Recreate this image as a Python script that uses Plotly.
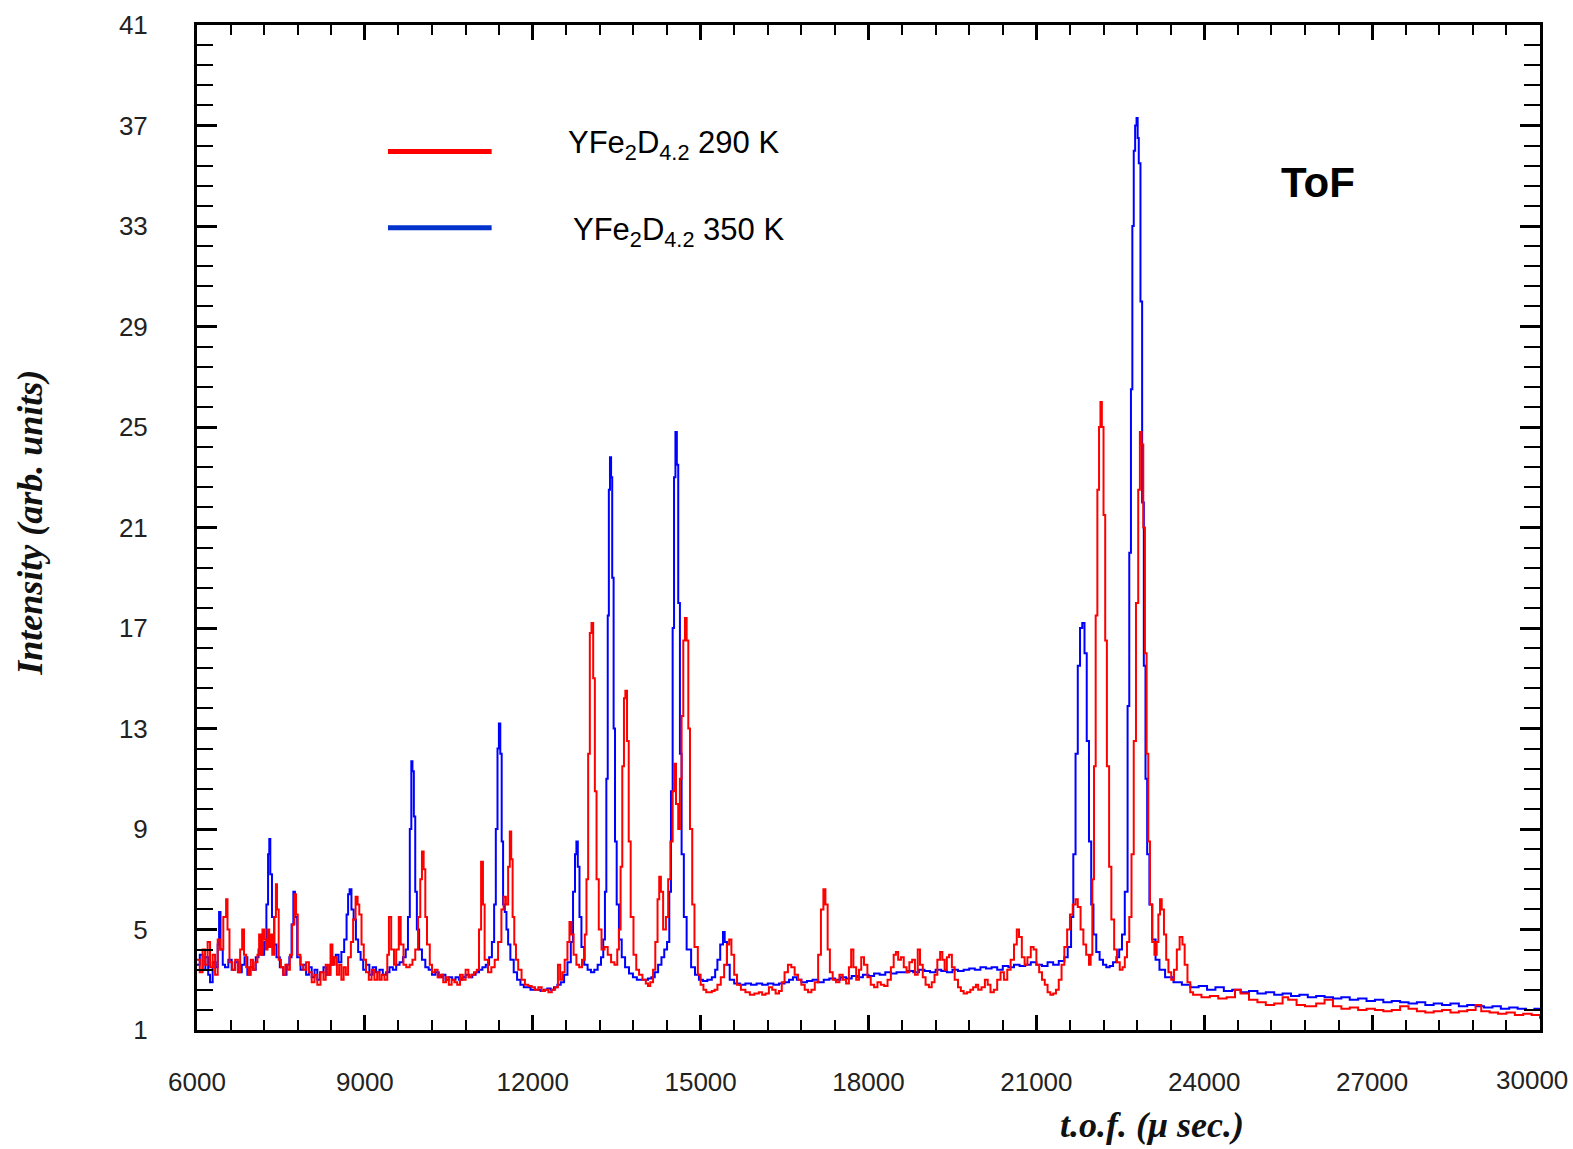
import plotly.graph_objects as go

# Time-of-flight neutron diffraction patterns of YFe2D4.2 at two temperatures

# 350 K pattern: time of flight (µs) and intensity (arb. units)
tof_350 = [
    6000, 6050, 6100, 6150, 6200, 6233, 6280, 6330, 6370, 6395, 6420, 6460, 6500, 6560, 6620,
    6680, 6740, 6800, 6850, 6900, 6950, 7000, 7050, 7100, 7150, 7200, 7240, 7270, 7292, 7310,
    7340, 7380, 7420, 7480, 7540, 7600, 7650, 7690, 7722, 7750, 7790, 7850, 7900, 7950, 8000,
    8050, 8100, 8150, 8200, 8260, 8320, 8380, 8430, 8480, 8530, 8580, 8630, 8673, 8700, 8727,
    8760, 8799, 8840, 8880, 8924, 8970, 9020, 9080, 9140, 9200, 9260, 9320, 9380, 9440, 9500,
    9560, 9620, 9680, 9730, 9770, 9803, 9830, 9850, 9875, 9900, 9929, 9970, 10020, 10080, 10140,
    10200, 10260, 10320, 10380, 10440, 10500, 10560, 10620, 10680, 10740, 10800, 10860, 10920, 10980, 11040,
    11100, 11160, 11220, 11270, 11310, 11340, 11370, 11395, 11420, 11445, 11470, 11500, 11530, 11560, 11600,
    11660, 11720, 11780, 11840, 11900, 11960, 12020, 12080, 12140, 12200, 12260, 12320, 12380, 12440, 12500,
    12560, 12620, 12680, 12720, 12755, 12780, 12805, 12835, 12870, 12920, 12980, 13040, 13100, 13160, 13220,
    13260, 13290, 13315, 13340, 13360, 13380, 13400, 13420, 13445, 13470, 13500, 13540, 13590, 13650, 13720,
    13790, 13860, 13930, 14000, 14060, 14120, 14180, 14240, 14300, 14350, 14400, 14440, 14470, 14500, 14525,
    14550, 14575, 14600, 14630, 14660, 14700, 14750, 14830, 14900, 14970, 15040, 15120, 15200, 15260, 15300,
    15350, 15400, 15430, 15470, 15520, 15600, 15700, 15800, 15900, 16000, 16100, 16200, 16300, 16400, 16500,
    16580, 16650, 16720, 16800, 16900, 17000, 17100, 17200, 17300, 17400, 17500, 17600, 17700, 17800, 17900,
    18000, 18100, 18200, 18300, 18400, 18500, 18600, 18700, 18800, 18900, 19000, 19100, 19200, 19300, 19400,
    19500, 19600, 19700, 19800, 19900, 20000, 20100, 20200, 20300, 20400, 20500, 20600, 20700, 20800, 20900,
    21000, 21100, 21200, 21300, 21400, 21500, 21560, 21620, 21660, 21700, 21740, 21780, 21820, 21860, 21900,
    21940, 21980, 22020, 22070, 22130, 22190, 22250, 22310, 22370, 22430, 22480, 22530, 22580, 22630, 22660,
    22690, 22715, 22740, 22765, 22790, 22810, 22830, 22860, 22890, 22920, 22950, 22980, 23020, 23070, 23130,
    23200, 23300, 23450, 23600, 23750, 23900, 24050, 24200, 24350, 24500, 24650, 24800, 24950, 25100, 25250,
    25400, 25550, 25700, 25850, 26000, 26150, 26300, 26450, 26600, 26750, 26900, 27050, 27200, 27350, 27500,
    27650, 27800, 27950, 28100, 28250, 28400, 28550, 28700, 28850, 29000, 29150, 29300, 29450, 29600, 29750,
    29900, 30000,
]
int_350 = [
    3.6, 4.0, 3.4, 3.9, 3.2, 2.9, 3.7, 3.5, 4.4, 5.7, 4.2, 3.6, 3.5, 3.8, 3.4,
    3.7, 3.3, 3.6, 3.9, 3.2, 3.5, 3.4, 3.9, 4.2, 4.0, 4.5, 6.0, 8.0, 8.6, 7.2,
    5.5, 4.4, 3.9, 3.5, 3.2, 3.6, 3.9, 5.2, 6.5, 5.5, 3.9, 3.4, 3.6, 3.2, 3.5,
    3.1, 3.4, 3.0, 3.3, 3.5, 3.2, 3.6, 3.9, 4.0, 3.7, 4.1, 4.6, 5.6, 6.4, 6.6,
    5.8, 5.4, 4.6, 4.1, 3.8, 3.4, 3.6, 3.2, 3.5, 3.3, 3.4, 3.2, 3.3, 3.5, 3.4,
    3.6, 3.7, 3.9, 4.2, 5.5, 9.0, 11.7, 11.3, 9.5, 6.5, 5.0, 4.2, 3.8, 3.5, 3.4,
    3.2, 3.3, 3.1, 3.2, 3.0, 3.1, 3.0, 3.1, 3.0, 3.1, 3.2, 3.1, 3.2, 3.3, 3.4,
    3.5, 3.6, 3.9, 4.5, 6.0, 9.0, 12.2, 13.2, 12.0, 8.5, 6.0, 5.7, 5.0, 4.4, 3.8,
    3.3, 3.0, 2.8, 2.7, 2.7, 2.6, 2.6, 2.6, 2.55, 2.6, 2.65, 2.6, 2.7, 2.8, 2.9,
    3.2, 3.7, 4.5, 6.5, 8.0, 8.5, 7.5, 5.5, 4.3, 3.6, 3.4, 3.3, 3.4, 3.6, 3.9,
    4.6, 6.5, 11.0, 17.5, 22.5, 23.8, 23.0, 19.0, 13.0, 8.5, 6.0, 4.6, 3.9, 3.5, 3.25,
    3.1, 3.0, 3.0, 3.0, 3.05, 3.1, 3.3, 3.6, 3.9, 4.2, 4.5, 6.5, 10.5, 17.0, 23.0,
    24.8, 23.5, 18.0, 12.0, 8.0, 5.5, 4.2, 3.5, 3.2, 3.0, 2.95, 3.0, 3.1, 3.4, 3.8,
    4.4, 4.9, 4.5, 3.6, 3.0, 2.85, 2.8, 2.85, 2.8, 2.85, 2.8, 2.85, 2.8, 2.85, 2.9,
    3.0, 3.1, 3.0, 2.9, 2.95, 3.0, 2.9, 3.0, 3.05, 3.0, 3.1, 3.05, 3.15, 3.1, 3.2,
    3.15, 3.25, 3.2, 3.3, 3.25, 3.3, 3.3, 3.35, 3.3, 3.4, 3.35, 3.3, 3.4, 3.35, 3.3,
    3.4, 3.35, 3.4, 3.45, 3.4, 3.5, 3.45, 3.5, 3.4, 3.55, 3.5, 3.6, 3.55, 3.6, 3.7,
    3.6, 3.55, 3.7, 3.6, 3.75, 3.9, 4.3, 5.5, 8.0, 12.0, 15.5, 17.0, 17.2, 16.0, 12.5,
    8.5, 6.0, 4.8, 4.1, 3.8, 3.6, 3.5, 3.55, 3.7, 3.9, 4.2, 4.8, 6.5, 13.9, 20.0,
    26.5, 33.0, 36.0, 37.0, 37.3, 36.5, 35.5, 30.0, 22.0, 15.5, 11.0, 8.0, 6.0, 4.6, 3.8,
    3.4, 3.1, 2.9, 2.8, 2.7, 2.75, 2.6, 2.7, 2.55, 2.6, 2.5, 2.55, 2.45, 2.5, 2.4,
    2.45, 2.35, 2.4, 2.3, 2.35, 2.3, 2.25, 2.3, 2.2, 2.25, 2.15, 2.2, 2.1, 2.15, 2.1,
    2.05, 2.1, 2.0, 2.05, 2.0, 2.05, 1.95, 2.0, 1.95, 1.9, 1.95, 1.85, 1.9, 1.85, 1.8,
    1.85, 1.8,
]

# 290 K pattern: time of flight (µs) and intensity (arb. units)
tof_290 = [
    6000, 6050, 6100, 6144, 6190, 6233, 6280, 6323, 6370, 6413, 6470, 6520, 6545, 6580, 6630,
    6682, 6730, 6771, 6807, 6840, 6879, 6920, 6960, 7000, 7041, 7080, 7110, 7140, 7170, 7202,
    7230, 7260, 7290, 7320, 7345, 7381, 7410, 7430, 7460, 7500, 7540, 7579, 7620, 7660, 7700,
    7740, 7770, 7800, 7848, 7900, 7950, 8000, 8050, 8100, 8150, 8207, 8260, 8300, 8340, 8386,
    8420, 8460, 8500, 8540, 8580, 8620, 8660, 8700, 8750, 8790, 8834, 8870, 8900, 8940, 8980,
    9020, 9070, 9120, 9170, 9220, 9260, 9300, 9350, 9400, 9430, 9470, 9520, 9560, 9606, 9640,
    9690, 9740, 9800, 9850, 9900, 9950, 9990, 10020, 10050, 10080, 10110, 10160, 10200, 10250, 10300,
    10350, 10400, 10450, 10500, 10550, 10600, 10650, 10700, 10750, 10800, 10850, 10900, 10950, 11000, 11040,
    11077, 11110, 11140, 11200, 11260, 11320, 11380, 11440, 11480, 11520, 11560, 11590, 11615, 11640, 11670,
    11700, 11740, 11800, 11860, 11920, 11980, 12040, 12100, 12160, 12220, 12280, 12340, 12400, 12450, 12490,
    12530, 12570, 12620, 12656, 12690, 12730, 12780, 12830, 12880, 12930, 12960, 12990, 13020, 13050, 13080,
    13110, 13140, 13180, 13229, 13283, 13340, 13400, 13460, 13510, 13540, 13570, 13600, 13630, 13655, 13685,
    13715, 13750, 13800, 13850, 13900, 13960, 14020, 14060, 14100, 14150, 14190, 14230, 14260, 14290, 14330,
    14380, 14420, 14460, 14500, 14530, 14560, 14600, 14630, 14660, 14690, 14720, 14750, 14780, 14810, 14850,
    14890, 14950,
    15000, 15050, 15100, 15150, 15200, 15250, 15300, 15360, 15420, 15470, 15510, 15550, 15600, 15650, 15720,
    15800, 15880, 15960, 16040, 16100, 16160, 16220, 16280, 16340, 16400, 16450, 16500, 16560, 16620, 16680,
    16740, 16800, 16860, 16920, 16980, 17040, 17100, 17150, 17194, 17230, 17270, 17310, 17360, 17420, 17480,
    17540, 17600, 17650, 17690, 17730, 17780, 17830, 17870, 17920, 17980, 18040, 18100, 18160, 18220, 18280,
    18340, 18400, 18450, 18490, 18530, 18580, 18630, 18680, 18730, 18780, 18830, 18880, 18920, 18970, 19020,
    19080, 19130, 19180, 19230, 19280, 19320, 19360, 19400, 19440, 19490, 19540, 19600, 19650, 19700, 19760,
    19820, 19870, 19920, 19960, 20020, 20080, 20130, 20180, 20240, 20300, 20360, 20420, 20480, 20540, 20600,
    20650, 20690, 20740, 20790, 20840, 20900, 20950, 21000, 21050, 21100, 21150, 21200, 21250, 21300, 21350,
    21400, 21450, 21500, 21550, 21600, 21650, 21700, 21740, 21790, 21840, 21890, 21940, 21970, 22000, 22030,
    22060, 22090, 22120, 22145, 22170, 22200, 22230, 22260, 22300, 22340, 22390, 22440, 22490, 22540, 22580,
    22620, 22660, 22700, 22740, 22780, 22820, 22850, 22880, 22910, 22940, 22970, 23000, 23030, 23070, 23110,
    23150, 23180, 23210, 23240, 23280, 23320, 23360, 23410, 23460, 23510, 23560, 23610, 23650, 23700, 23750,
    23800, 23950, 24100, 24250, 24400, 24550, 24650, 24800, 24950, 25100, 25250, 25400, 25500, 25650, 25800,
    26000, 26150, 26300, 26450, 26600, 26750, 26900, 27050, 27200, 27350, 27500, 27650, 27800, 27950, 28100,
    28250, 28400, 28550, 28700, 28850, 28950, 29100, 29250, 29400, 29550, 29700, 29850, 30000,
]
int_290 = [
    3.8, 3.3, 4.2, 3.6, 4.5, 3.5, 4.0, 3.2, 4.6, 4.2, 5.5, 6.2, 5.0, 3.7, 3.4,
    3.8, 3.3, 4.2, 5.0, 4.0, 3.5, 3.2, 3.8, 3.4, 3.7, 4.0, 4.8, 4.0, 5.0, 4.6,
    4.2, 5.0, 4.3, 4.8, 4.0, 5.5, 6.8, 5.8, 3.8, 3.5, 3.2, 3.6, 3.4, 4.0, 5.2,
    6.4, 5.6, 4.0, 3.6, 3.4, 3.7, 3.3, 2.9, 3.2, 2.8, 3.3, 3.0, 3.6, 3.2, 4.4,
    3.6, 3.9, 3.2, 3.6, 3.0, 3.5, 3.2, 3.9, 4.5, 5.4, 6.3, 6.0, 5.6, 4.4, 3.8,
    3.3, 3.0, 3.4, 3.0, 3.3, 3.0, 3.2, 3.0, 4.0, 5.5, 4.2, 3.6, 4.2, 5.5, 4.4,
    3.6, 3.5, 3.6, 3.8, 4.2, 5.5, 7.0, 8.1, 7.4, 5.5, 4.4, 3.6, 3.3, 3.4, 3.1,
    3.2, 2.9, 3.1, 2.8, 3.0, 2.9, 2.8, 3.2, 3.0, 3.4, 3.1, 3.2, 3.3, 3.4, 5.0,
    7.7, 6.0, 3.8, 3.3, 3.5, 3.8, 4.5, 5.8, 6.3, 6.0, 7.5, 8.9, 7.8, 5.5, 4.4,
    3.8, 3.4, 3.0, 2.8, 2.75, 2.7, 2.6, 2.7, 2.55, 2.6, 2.5, 2.6, 2.7, 3.6, 3.0,
    3.3, 3.8, 4.5, 5.3, 4.8, 4.0, 3.6, 3.5, 3.8, 4.8, 7.0, 12.0, 16.8, 17.2, 15.0,
    10.5, 7.0, 5.0, 4.2, 4.3, 4.0, 3.7, 3.6, 4.2, 5.0, 7.5, 11.5, 14.2, 14.5, 12.5,
    8.5, 5.5, 4.0, 3.4, 3.2, 3.0, 2.85, 2.75, 2.9, 3.4, 4.5, 6.2, 7.1, 6.5, 5.0,
    5.5, 7.0, 8.5, 10.5, 11.6, 10.0, 9.0, 11.0, 13.5, 16.5, 17.4, 16.5, 13.0, 9.0, 6.0,
    4.3, 3.2,
    2.8, 2.6, 2.5, 2.5, 2.55, 2.6, 2.8, 3.1, 3.6, 4.4, 4.6, 4.0, 3.2, 2.8, 2.6,
    2.5, 2.4, 2.45, 2.5, 2.4, 2.45, 2.7, 2.6, 2.45, 2.55, 2.9, 3.3, 3.6, 3.5, 3.2,
    3.0, 2.8, 2.6, 2.5, 2.6, 2.9, 4.0, 5.8, 6.6, 6.0, 4.2, 3.3, 3.0, 2.9, 3.2,
    3.0, 2.85, 3.5, 4.2, 3.5, 3.0, 3.4, 3.9, 3.6, 3.1, 2.8, 2.7, 2.9, 2.8, 2.75,
    3.0, 3.5, 4.0, 4.1, 3.8, 3.9, 3.5, 3.3, 3.7, 3.8, 3.2, 4.2, 3.6, 3.1, 2.8,
    2.7, 2.9, 3.2, 3.8, 4.1, 3.8, 3.4, 3.9, 4.0, 3.5, 3.0, 2.7, 2.55, 2.45, 2.5,
    2.6, 2.7, 2.8, 2.6, 2.7, 3.0, 2.8, 2.5, 2.6, 3.0, 3.3, 3.0, 3.4, 3.8, 4.4,
    5.0, 4.7, 3.9, 3.6, 3.9, 4.3, 4.2, 3.6, 3.3, 3.0, 2.8, 2.5, 2.4, 2.45, 2.6,
    3.0, 3.6, 4.3, 5.0, 5.6, 6.0, 6.2, 5.9, 5.0, 4.4, 4.0, 3.6, 4.0, 7.0, 11.5,
    17.5, 22.5, 25.0, 26.0, 25.0, 21.5, 16.5, 11.5, 7.5, 5.4, 4.2, 3.7, 3.4, 3.5, 3.9,
    4.5, 5.5, 8.0, 12.5, 18.0, 22.5, 24.8, 24.3, 21.0, 16.0, 12.0, 8.5, 6.0, 4.5, 4.0,
    4.5, 5.6, 6.2, 5.8, 4.8, 3.8, 3.3, 3.0, 3.4, 4.2, 4.7, 4.4, 3.6, 2.9, 2.5,
    2.4, 2.3, 2.35, 2.25, 2.3, 2.6, 2.45, 2.2, 2.1, 2.0, 2.05, 2.3, 2.2, 2.0, 1.95,
    2.05, 2.2, 1.95, 1.85, 1.9, 1.8, 1.85, 1.8, 1.75, 1.8, 1.95, 1.85, 1.75, 1.7, 1.75,
    1.8, 1.7, 1.75, 1.8, 2.0, 1.75, 1.7, 1.65, 1.7, 1.6, 1.65, 1.6, 1.45,
]

x_ticks = [6000, 9000, 12000, 15000, 18000, 21000, 24000, 27000, 30000]
y_ticks = [1, 5, 9, 13, 17, 21, 25, 29, 33, 37, 41]

series_labels = ["YFe<sub>2</sub>D<sub>4.2</sub> 290 K", "YFe<sub>2</sub>D<sub>4.2</sub> 350 K"]
series_colors = ["#ff0000", "#0000ff"]
key_colors = ["#ff0000", "#0033cc"]

fig = go.Figure()
fig.add_trace(go.Scatter(x=tof_350, y=int_350, mode="lines", name=series_labels[1],
                         line=dict(color=series_colors[1], width=2, shape="hv"), showlegend=False))
fig.add_trace(go.Scatter(x=tof_290, y=int_290, mode="lines", name=series_labels[0],
                         line=dict(color=series_colors[0], width=2, shape="hv"), showlegend=False))

tick_font = dict(family="Liberation Sans, Arial, sans-serif", size=26, color="#222222")
title_font = dict(family="Liberation Serif, Times New Roman, serif", size=36, color="#111111")

# The label at the right end of the x axis is set as a separate text, pulled
# slightly inward so that it stays inside the page.
x_ticktext = [str(v) for v in x_ticks[:-1]] + [""]

fig.update_xaxes(
    range=[6000, 30000], tickmode="array", tickvals=x_ticks,
    ticktext=x_ticktext, automargin=False,
    showline=True, linecolor="black", linewidth=3, mirror="ticks",
    ticks="inside", ticklen=15, tickwidth=3, tickcolor="black",
    minor=dict(dtick=600, tick0=6000, ticks="inside", ticklen=10, tickwidth=2, tickcolor="black"),
    showgrid=False, zeroline=False, tickfont=tick_font, ticklabelstandoff=27,
)
fig.update_yaxes(
    range=[1, 41], tickmode="array", tickvals=y_ticks,
    ticktext=[str(v) for v in y_ticks], ticklabeloverflow="allow", automargin=False,
    showline=True, linecolor="black", linewidth=3, mirror="ticks",
    ticks="inside", ticklen=20, tickwidth=3, tickcolor="black",
    minor=dict(dtick=0.8, tick0=1, ticks="inside", ticklen=16, tickwidth=2, tickcolor="black"),
    showgrid=False, zeroline=False, tickfont=tick_font, ticklabelstandoff=41,
)

fig.add_annotation(text=str(x_ticks[-1]), xref="paper", yref="paper", x=1.0223, y=-0.0500,
                   showarrow=False, xanchor="right", yanchor="middle", font=tick_font)

# Axis titles
fig.add_annotation(text="<b><i>Intensity (arb. units)</i></b>", xref="paper", yref="paper",
                   x=-0.1243, y=0.5048, textangle=-90, showarrow=False,
                   xanchor="center", yanchor="middle", font=title_font)
fig.add_annotation(text="<b><i>t.o.f. (\u03bc sec.)</i></b>", xref="paper", yref="paper",
                   x=0.711, y=-0.0945, showarrow=False,
                   xanchor="center", yanchor="middle", font=title_font)

# Key: coloured line samples with their labels
line_y = [0.8741, 0.7983]
text_y = [0.8801, 0.7943]
text_x = [0.2745, 0.2782]
for lab, col, ly, ty, tx in zip(series_labels, key_colors, line_y, text_y, text_x):
    fig.add_shape(type="line", xref="paper", yref="paper", x0=0.1422, x1=0.2194, y0=ly, y1=ly,
                  line=dict(color=col, width=5))
    fig.add_annotation(text=lab, xref="paper", yref="paper", x=tx, y=ty,
                       showarrow=False, xanchor="left", yanchor="middle",
                       font=dict(family="Liberation Sans, Arial, sans-serif", size=31, color="black"))

fig.add_annotation(text="<b>ToF</b>", xref="paper", yref="paper", x=0.8347, y=0.8432,
                   showarrow=False, xanchor="center", yanchor="middle",
                   font=dict(family="Liberation Sans, Arial, sans-serif", size=42, color="black"))

fig.update_layout(
    width=1573, height=1149,
    margin=dict(l=197, r=33, t=25, b=119),
    paper_bgcolor="white", plot_bgcolor="white",
    showlegend=False,
)

fig.write_html("out.html")
